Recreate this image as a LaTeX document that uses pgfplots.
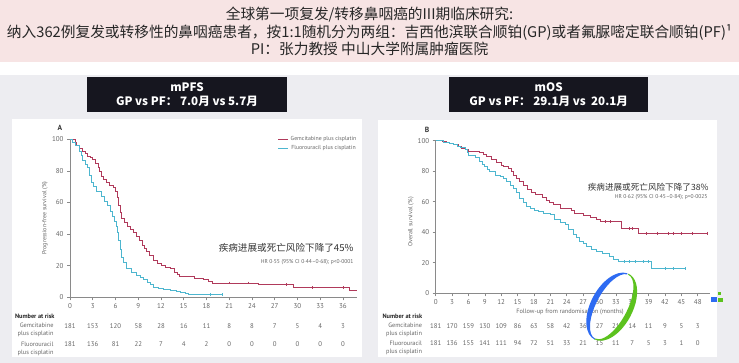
\documentclass[border=0pt]{standalone}
\usepackage{fontspec}
\setmainfont{Noto Sans CJK SC}
\newfontfamily\lan{PT Sans}
\usepackage{pgfplots}
\pgfplotsset{compat=1.18}
\definecolor{gp}{HTML}{B03A5B}
\definecolor{pf}{HTML}{4DB6CF}
\definecolor{axg}{HTML}{8A8A8A}
\definecolor{txg}{HTML}{666666}
\definecolor{bg}{HTML}{EDEDF1}
\definecolor{pinkb}{HTML}{F7E4E4}
\definecolor{boxc}{HTML}{16161F}
\definecolor{lblue}{HTML}{2E6BF2}
\definecolor{lgreen}{HTML}{5CC21E}
\pgfplotsset{km/.style={scale only axis, ymin=0, ymax=100,
  axis x line=bottom, axis y line=left,
  axis line style={axg,-,line width=0.6pt},
  tick align=outside, ytick={0,20,...,100},
  tick style={axg,line width=0.6pt}, major tick length=3pt,
  ticklabel style={font=\lan\fontsize{7}{8}\selectfont, text=txg},
  /pgf/number format/assume math mode=true, clip=false,
  legend image code/.code={\draw[#1,line width=0.8pt] (0pt,0pt) -- (10pt,0pt);}}}
\begin{document}
\begin{tikzpicture}
\useasboundingbox (0pt,0pt) rectangle (739pt,-363pt);
\begin{scope}[x=1pt,y=1pt]
\fill[bg] (0,0) rectangle (739,-363);
\fill[white] (0,-61.7) rectangle (739,-75);
\fill[pinkb] (0,0) rectangle (739,-61.7);
\begin{scope}[font=\fontsize{14.7}{16}\selectfont, text=black!85]
\node at (369.5,-14.5) {全球第一项复发/转移鼻咽癌的III期临床研究:};
\node at (369.5,-32) {纳入362例复发或转移性的鼻咽癌患者，按1:1随机分为两组：吉西他滨联合顺铂(GP)或者氟脲嘧定联合顺铂(PF)¹};
\node at (369.5,-48.5) {PI：张力教授 中山大学附属肿瘤医院};
\end{scope}
\fill[white] (11.7,-119.3) rectangle (361.7,-357.3);
\fill[white] (378.3,-120) rectangle (716.7,-357);
\fill[boxc] (87.3,-76.7) rectangle (287,-112);
\fill[boxc] (449,-76.7) rectangle (648.3,-112);
\begin{scope}[text=white, font=\bfseries\fontsize{11.6}{13}\selectfont]
\node at (187,-87) {mPFS};
\node at (187,-101.7) {GP vs PF：\ 7.0月 vs 5.7月};
\node at (548.7,-87) {mOS};
\node at (548.7,-101.7) {GP vs PF：\ 29.1月 vs\ \ 20.1月};
\end{scope}
\end{scope}

\begin{axis}[km, at={(70pt,-297.3pt)}, anchor=south west, width=286.6pt, height=158pt,
  xmin=0, xmax=37.8, xtick={0,3,...,36},
  legend style={at={(1.01,1.04)}, anchor=north east, draw=none, fill=none,
    font=\lan\fontsize{5.8}{6}\selectfont, text=txg, row sep=-0.5pt, inner sep=1pt}]
\addplot[const plot, gp, line width=0.9pt] coordinates {(0,100)(0.67,98)(0.85,96.4)(1.2,94.5)(1.66,92.6)(2.0,91)(2.3,89.4)(2.7,88.3)(3.0,87.3)(3.4,85)(3.7,82)(3.9,79.5)(4.1,76.7)(4.4,74.5)(4.8,72.5)(5.2,71)(5.7,69.3)(6.0,67)(6.2,63)(6.4,58)(6.6,53.5)(6.8,50)(7.2,47.5)(7.6,45)(8.0,43)(8.4,41)(8.8,38.5)(9.2,36)(9.5,33)(9.8,31)(10.1,29)(10.5,26.5)(11.0,23.5)(11.5,21.5)(12.0,20)(12.6,19)(13.2,18)(13.8,16)(14.2,14.5)(14.5,13.5)(16.4,12)(17.6,11.2)(18.3,10)(18.8,9)(24.8,8)(29.5,6)(36.9,4.2)(37.8,4.2)};
\addlegendentry{Gemcitabine plus cisplatin}
\addplot[const plot, pf, line width=0.9pt] coordinates {(0,100)(0.3,97.9)(0.67,95.8)(1.2,92.6)(1.45,89.5)(1.66,86.3)(2.0,84)(2.3,82)(2.55,77)(2.8,72.5)(3.1,70)(3.5,67.2)(4.1,64)(4.6,60.9)(4.9,58)(5.3,54.5)(5.6,51)(5.9,48)(6.1,45)(6.25,41)(6.4,36)(6.6,30)(6.8,25)(7.0,22)(7.5,18.3)(8.1,16)(8.8,14)(9.3,12.5)(9.7,11)(10.2,9.5)(10.6,8)(11.0,6.5)(11.6,5.5)(12.3,4.8)(13.2,4.2)(14.0,3.5)(14.6,2.8)(15.2,2.2)(15.6,1.8)(20.1,1.8)};
\addlegendentry{Fluorouracil plus cisplatin}
\addplot[only marks, mark=|, mark size=1.4pt, gp, forget plot] coordinates {(21,9)(23.5,9)(28.5,8)(32,6)(36,6)};
\addplot[only marks, mark=|, mark size=1.4pt, pf, forget plot] coordinates {(18.5,1.8)(20.1,1.8)};
\end{axis}

\begin{axis}[km, at={(435.7pt,-293.3pt)}, anchor=south west, width=274.6pt, height=152.6pt,
  xmin=0, xmax=50.3, xtick={0,3,...,48}]
\addplot[const plot, gp, line width=0.9pt] coordinates {(0,100)(1.2,99.5)(2.0,99)(2.6,98.5)(3.2,97.5)(4.1,96.5)(4.7,95)(5.4,94)(6.0,93)(8.1,92.5)(8.7,91)(9.3,89.5)(10.2,88)(11.2,86)(12.0,84)(12.4,83)(13.3,82)(13.8,80)(14.2,77.5)(14.8,75)(15.4,73)(16.0,70.5)(16.8,68)(17.5,66)(18.2,64.5)(19.5,63)(20.3,61)(20.8,59.5)(21.5,58)(22.8,55.7)(24.9,54)(25.5,52.4)(27.0,51)(28.3,50)(29.5,48.5)(30.1,47)(34.0,42.6)(37.2,39.3)(49.8,39.3)};
\addplot[const plot, pf, line width=0.9pt] coordinates {(0,100)(1.4,99)(2.5,98.5)(3.2,97.5)(4.0,96.5)(4.5,95.5)(5.4,94)(5.8,92)(6.0,90.6)(7.2,89)(8.1,86.5)(8.6,84.5)(9.0,83)(9.5,81)(9.9,79.7)(10.9,77.5)(11.8,76.4)(12.4,75)(13.0,73)(13.6,71)(14.2,68.8)(14.8,66)(15.4,62)(16.0,59.5)(16.7,57)(17.3,55.5)(18.0,54.5)(18.8,53.5)(19.7,52.5)(21.0,51.5)(21.8,48.5)(22.8,46.5)(23.7,44.8)(24.4,42)(25.2,38.5)(25.8,36.5)(26.4,34)(27.0,32.5)(27.6,30.5)(28.5,29)(29.5,27.3)(30.6,26)(31.9,24)(32.6,22)(33.4,20.7)(39.6,16.4)(45.7,16.4)};
\addplot[only marks, mark=|, mark size=1.4pt, gp] coordinates {(31,47)(32,47)(35.5,42.6)(36,42.6)(38.5,39.3)(40.5,39.3)(42.5,39.3)(43.5,39.3)(45,39.3)(47,39.3)(49.8,39.3)};
\addplot[only marks, mark=|, mark size=1.4pt, pf] coordinates {(34.5,20.7)(35.5,20.7)(36.5,20.7)(38,20.7)(39,20.7)(42,16.4)(43.5,16.4)(45.7,16.4)};
\end{axis}

\begin{scope}[x=1pt,y=1pt]
\node[font=\lan\bfseries\fontsize{7.5}{8}\selectfont, text=black!80] at (60,-127.7) {A};
\node[font=\lan\bfseries\fontsize{7.5}{8}\selectfont, text=black!80] at (427,-130) {B};
\node[rotate=90, font=\lan\fontsize{6}{6}\selectfont, text=txg] at (45,-218) {Progression-free survival (\%)};
\node[rotate=90, font=\lan\fontsize{6}{6}\selectfont, text=txg] at (411,-222) {Overall survival (\%)};
\node[font=\lan\fontsize{6.3}{7}\selectfont, text=txg] at (570,-311.7) {Follow-up from randomisation (months)};
\node[anchor=east, font=\fontsize{9.6}{11}\selectfont, text=black!80] at (357,-247.7) {疾病进展或死亡风险下降了45\%};
\node[anchor=east, font=\lan\fontsize{5.6}{6}\selectfont, text=txg] at (357,-261.7) {HR 0·55 (95\% CI 0·44–0·68); p<0·0001};
\node[anchor=east, font=\fontsize{8.6}{10}\selectfont, text=black!80] at (712,-187) {疾病进展或死亡风险下降了38\%};
\node[anchor=east, font=\lan\fontsize{5.6}{6}\selectfont, text=txg] at (711,-197) {HR 0·62 (95\% CI 0·45–0·84); p=0·0025};
\begin{scope}[font=\lan\fontsize{6.8}{7}\selectfont, text=txg]
\node[anchor=west, text=black!85, font=\lan\bfseries\fontsize{6.3}{7}\selectfont] at (11.5,-316) {Number at risk};
\node[anchor=east, font=\lan\fontsize{6.3}{7}\selectfont] at (57,-325.7) {Gemcitabine};
\node[anchor=east, font=\lan\fontsize{6.3}{7}\selectfont] at (57,-334.3) {plus cisplatin};
\node[anchor=east, font=\lan\fontsize{6.3}{7}\selectfont] at (57,-344) {Fluorouracil};
\node[anchor=east, font=\lan\fontsize{6.3}{7}\selectfont] at (57,-352.7) {plus cisplatin};
\foreach \v [count=\i from 0] in {181,153,120,58,28,16,11,8,8,7,5,4,3}
  \node at ({70+22.75*\i},-325.7) {\v};
\foreach \v [count=\i from 0] in {181,136,81,22,7,4,2,0,0,0,0,0,0}
  \node at ({70+22.75*\i},-344) {\v};
\node[anchor=west, text=black!85, font=\lan\bfseries\fontsize{6.3}{7}\selectfont] at (379,-316.7) {Number at risk};
\node[anchor=east, font=\lan\fontsize{6.3}{7}\selectfont] at (425.5,-325.7) {Gemcitabine};
\node[anchor=east, font=\lan\fontsize{6.3}{7}\selectfont] at (425.5,-334.3) {plus cisplatin};
\node[anchor=east, font=\lan\fontsize{6.3}{7}\selectfont] at (425.5,-343.3) {Fluorouracil};
\node[anchor=east, font=\lan\fontsize{6.3}{7}\selectfont] at (425.5,-352) {plus cisplatin};
\foreach \v [count=\i from 0] in {181,170,159,130,109,86,63,58,42,36,27,21,14,11,9,5,3}
  \node at ({435.7+16.38*\i},-325.7) {\v};
\foreach \v [count=\i from 0] in {181,136,155,141,111,94,72,51,33,21,15,11,7,5,3,1,0}
  \node at ({435.7+16.38*\i},-343.3) {\v};
\end{scope}
\begin{scope}[shift={(611.7,-306.7)}, rotate=62]
\fill[lblue] (5:37 and 21) arc[start angle=5, end angle=182, x radius=37, y radius=21] -- (182:36 and 15.5) arc[start angle=182, end angle=5, x radius=36, y radius=15.5] -- cycle;
\fill[lgreen] (180:37 and 21) arc[start angle=180, end angle=362, x radius=37, y radius=21] -- (362:36 and 15.5) arc[start angle=362, end angle=180, x radius=36, y radius=15.5] -- cycle;
\end{scope}
\fill[lblue] (710.7,-296.7) rectangle (717.3,-301.7);
\fill[lgreen] (717.7,-297.7) rectangle (722.7,-302.3);
\fill[lgreen] (717.7,-292.3) rectangle (720.7,-295);
\end{scope}
\end{tikzpicture}
\end{document}
